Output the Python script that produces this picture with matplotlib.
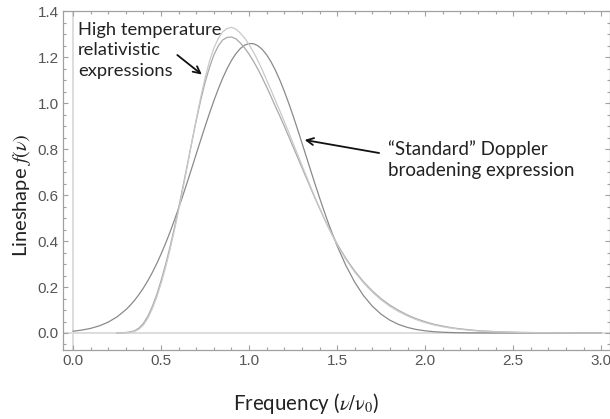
import numpy as np
import matplotlib
matplotlib.use("Agg")
import matplotlib.pyplot as plt
from matplotlib.ticker import MultipleLocator

nan = np.nan

# Normalised frequency grid (nu / nu_0), finer where the curves bend sharply
freq = [0.00, 0.05, 0.10, 0.15, 0.20, 0.25, 0.30,
        0.325, 0.35, 0.375, 0.40, 0.425, 0.45, 0.475, 0.50,
        0.525, 0.55, 0.575, 0.60, 0.625, 0.65, 0.675, 0.70, 0.725, 0.75,
        0.775, 0.80, 0.825, 0.85, 0.875, 0.90, 0.925, 0.95, 0.975, 1.00,
        1.025, 1.05, 1.075, 1.10, 1.125, 1.15, 1.175, 1.20, 1.225, 1.25,
        1.275, 1.30, 1.325, 1.35, 1.375, 1.40, 1.425, 1.45, 1.475, 1.50,
        1.55, 1.60, 1.65, 1.70, 1.75, 1.80, 1.85, 1.90, 1.95, 2.00,
        2.05, 2.10, 2.15, 2.20, 2.25, 2.30, 2.35, 2.40, 2.45, 2.50,
        2.55, 2.60, 2.65, 2.70, 2.75, 2.80, 2.85, 2.90, 2.95, 3.00]

# "Standard" Doppler broadening lineshape
doppler = [0.0077, 0.0126, 0.0201, 0.0312, 0.0474, 0.0702, 0.1013,
           0.1206, 0.1428, 0.1679, 0.1961, 0.2276, 0.2627, 0.3012, 0.3433,
           0.3887, 0.4373, 0.4893, 0.5437, 0.6005, 0.6591, 0.7190, 0.7793, 0.8394, 0.8986,
           0.9560, 1.0106, 1.0618, 1.1087, 1.1503, 1.1860, 1.2153, 1.2376, 1.2523, 1.2594,
           1.2586, 1.2499, 1.2337, 1.2100, 1.1794, 1.1424, 1.0996, 1.0518, 1.0001, 0.9447,
           0.8869, 0.8274, 0.7672, 0.7069, 0.6473, 0.5889, 0.5326, 0.4785, 0.4274, 0.3793,
           0.2932, 0.2210, 0.1625, 0.1166, 0.0815, 0.0556, 0.0370, 0.0240, 0.0152, 0.0094,
           0.0056, 0.0033, 0.0019, 0.0011, 0.0006, 0.0003, 0.0001, 0.0, 0.0, 0.0,
           0.0, 0.0, 0.0, 0.0, 0.0, 0.0, 0.0, 0.0, 0.0, 0.0]

# High temperature relativistic expressions
relativistic_a = [nan, nan, nan, nan, nan, 0.0, 0.001,
                  0.003, 0.007, 0.017, 0.035, 0.064, 0.105, 0.155, 0.215,
                  0.283, 0.360, 0.444, 0.535, 0.631, 0.730, 0.831, 0.930, 1.025, 1.110,
                  1.182, 1.240, 1.281, 1.310, 1.325, 1.330, 1.322, 1.305, 1.283, 1.255,
                  1.222, 1.185, 1.144, 1.100, 1.056, 1.010, 0.966, 0.920, 0.873, 0.825,
                  0.778, 0.730, 0.683, 0.635, 0.589, 0.545, 0.502, 0.460, 0.421, 0.385,
                  0.320, 0.265, 0.218, 0.178, 0.144, 0.116, 0.093, 0.074, 0.058, 0.045,
                  0.035, 0.027, 0.021, 0.016, 0.012, 0.009, 0.007, 0.005, 0.004, 0.003,
                  0.002, 0.0015, 0.001, 0.001, 0.0005, 0.0005, 0.0, 0.0, 0.0, 0.0]
relativistic_b = [nan, nan, nan, nan, nan, 0.0, 0.002,
                  0.005, 0.010, 0.022, 0.042, 0.073, 0.115, 0.166, 0.228,
                  0.296, 0.372, 0.455, 0.545, 0.640, 0.735, 0.832, 0.925, 1.012, 1.090,
                  1.155, 1.210, 1.249, 1.275, 1.286, 1.288, 1.280, 1.262, 1.240, 1.213,
                  1.182, 1.148, 1.110, 1.070, 1.028, 0.985, 0.943, 0.900, 0.855, 0.810,
                  0.765, 0.720, 0.675, 0.630, 0.586, 0.543, 0.501, 0.461, 0.424, 0.388,
                  0.324, 0.270, 0.223, 0.183, 0.149, 0.121, 0.098, 0.078, 0.062, 0.049,
                  0.038, 0.030, 0.023, 0.018, 0.014, 0.010, 0.008, 0.006, 0.0045, 0.0035,
                  0.0025, 0.002, 0.0015, 0.001, 0.0007, 0.0005, 0.0003, 0.0, 0.0, 0.0]

x_ticks = [0.0, 0.5, 1.0, 1.5, 2.0, 2.5, 3.0]
y_ticks = [0.0, 0.2, 0.4, 0.6, 0.8, 1.0, 1.2, 1.4]

label_font = ["Lato", "DejaVu Sans"]
tick_font = ["Liberation Sans Narrow", "Liberation Sans", "DejaVu Sans"]
plt.rcParams["mathtext.fontset"] = "stix"

fig = plt.figure(figsize=(6.10, 4.19), dpi=100)
ax = fig.add_axes([63 / 610, 1 - 350 / 419, 547 / 610, 339 / 419])

ax.set_xlim(-0.057, 3.05)
ax.set_ylim(-0.074, 1.401)

# light axis lines through the origin
ax.axhline(0, color="#dddddd", lw=1.4, zorder=1)
ax.axvline(0, color="#dddddd", lw=1.4, zorder=1)

ax.plot(freq, doppler, color="#8a8a8a", lw=0.9, zorder=3)
ax.plot(freq, relativistic_b, color="#a9a9a9", lw=0.9, zorder=3)
ax.plot(freq, relativistic_a, color="#c9c9c9", lw=0.9, zorder=3)

frame = "#a0a0a0"
for s in ax.spines.values():
    s.set_color(frame)
    s.set_linewidth(0.9)

ax.set_xticks(x_ticks)
ax.set_yticks(y_ticks)
ax.set_xticklabels([f"{v:.1f}" for v in x_ticks])
ax.set_yticklabels([f"{v:.1f}" for v in y_ticks])
ax.xaxis.set_minor_locator(MultipleLocator(0.1))
ax.yaxis.set_minor_locator(MultipleLocator(0.05))
ax.tick_params(which="both", direction="in", top=True, right=True,
               color=frame, width=0.8, labelcolor="#555555", labelsize=11)
ax.tick_params(which="major", length=3.8, pad=3)
ax.tick_params(which="minor", length=2.0)
for lab in ax.get_xticklabels() + ax.get_yticklabels():
    lab.set_family(tick_font)

fig.text(22 / 610, 1 - 195 / 419, r"Lineshape $f(\nu)$", rotation=90,
         ha="center", va="center", fontsize=14.5, family=label_font, color="#222222")
fig.text(306 / 610, 1 - 403 / 419, r"Frequency ($\nu/\mathrm{\nu}_0$)",
         ha="center", va="center", fontsize=14.8, family=label_font, color="#222222")

ax.text(0.028, 1.352, "High temperature\nrelativistic\nexpressions",
        ha="left", va="top", fontsize=13.2, family=label_font, color="#222222",
        linespacing=1.32)
ax.annotate("", xy=(0.744, 1.117), xytext=(0.58, 1.217),
            arrowprops=dict(arrowstyle="->,head_length=0.5,head_width=0.25",
                            color="#111111", lw=1.3))

ax.text(1.79, 0.84, "\u201cStandard\u201d Doppler\nbroadening expression",
        ha="left", va="top", fontsize=13.5, family=label_font, color="#222222",
        linespacing=1.3)
ax.annotate("", xy=(1.30, 0.842), xytext=(1.754, 0.781),
            arrowprops=dict(arrowstyle="->,head_length=0.5,head_width=0.25",
                            color="#111111", lw=1.3))

fig.savefig("out.png", dpi=100)
